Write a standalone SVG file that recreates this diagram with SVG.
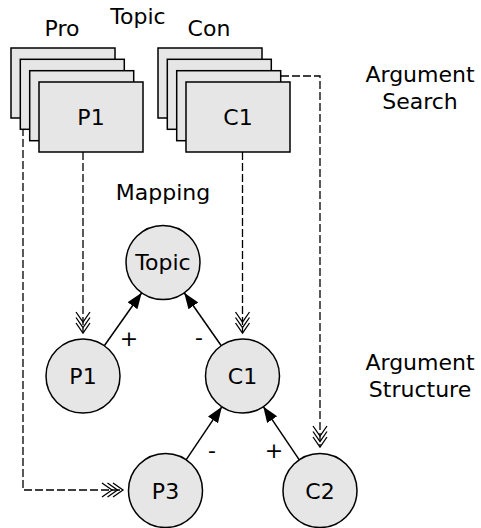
<svg xmlns="http://www.w3.org/2000/svg" width="481" height="528" viewBox="0 0 481 528">
<style>
text{font-family:"DejaVu Sans","Verdana",sans-serif;font-size:22px;fill:#000;text-anchor:middle}
.card{fill:#e6e6e6;stroke:#000;stroke-width:1.5}
.node{fill:#e6e6e6;stroke:#000;stroke-width:1.5}
.dash{fill:none;stroke:#000;stroke-width:1.3;stroke-dasharray:8,3}
.edge{fill:none;stroke:#000;stroke-width:1.5}
</style>
<defs>
<marker id="chev" markerUnits="userSpaceOnUse" markerWidth="26" markerHeight="18" viewBox="-23 -9 26 18" refX="0" refY="0" orient="auto">
<path d="M-10,-7 L0,0 L-10,7 M-15.5,-7 L-5.5,0 L-15.5,7 M-21,-7 L-11,0 L-21,7" fill="none" stroke="#000" stroke-width="1.3"/>
</marker>
<marker id="tri" markerUnits="userSpaceOnUse" markerWidth="18" markerHeight="14" viewBox="-16 -7 18 14" refX="0" refY="0" orient="auto">
<path d="M0,0 L-16,-6 L-16,6 Z" fill="#000"/>
</marker>
</defs>

<g id="labels">
<text x="62" y="36">Pro</text>
<text x="138" y="24">Topic</text>
<text x="209" y="36">Con</text>
<text x="163" y="200">Mapping</text>
<text x="420" y="82">Argument</text>
<text x="420" y="109">Search</text>
<text x="420" y="370">Argument</text>
<text x="420" y="397">Structure</text>
</g>

<g id="connectors">
<path class="dash" d="M23,128 V490 H123" marker-end="url(#chev)"/>
<path class="dash" d="M83,152 V333" marker-end="url(#chev)"/>
<path class="dash" d="M242.5,152 V333" marker-end="url(#chev)"/>
<path class="dash" d="M281,76 H320 V447" marker-end="url(#chev)"/>
<path class="edge" d="M104.3,345.8 L141.7,292.7" marker-end="url(#tri)"/>
<path class="edge" d="M221.3,345.7 L184.2,292.8" marker-end="url(#tri)"/>
<path class="edge" d="M186.1,459.8 L221.9,406.7" marker-end="url(#tri)"/>
<path class="edge" d="M299.3,459.9 L263.2,406.4" marker-end="url(#tri)"/>
<text x="129" y="346">+</text>
<text x="199" y="345">-</text>
<text x="212" y="458">-</text>
<text x="274" y="458">+</text>
</g>

<g id="pro-stack">
<rect class="card" x="11" y="48" width="104" height="70"/>
<rect class="card" x="20.3" y="59.3" width="104" height="70"/>
<rect class="card" x="29.7" y="70.7" width="104" height="70"/>
<rect class="card" x="39" y="82" width="104" height="70"/>
<text x="91" y="125">P1</text>
</g>

<g id="con-stack">
<rect class="card" x="158" y="48" width="104" height="70"/>
<rect class="card" x="167.3" y="59.3" width="104" height="70"/>
<rect class="card" x="176.7" y="70.7" width="104" height="70"/>
<rect class="card" x="186" y="82" width="104" height="70"/>
<text x="238" y="125">C1</text>
</g>

<g id="node-topic">
<circle class="node" cx="163" cy="262.5" r="37"/>
<text x="163" y="270">Topic</text>
</g>
<g id="node-p1">
<circle class="node" cx="83" cy="376" r="37"/>
<text x="83" y="384">P1</text>
</g>
<g id="node-c1">
<circle class="node" cx="242.5" cy="376" r="37"/>
<text x="242.5" y="384">C1</text>
</g>
<g id="node-p3">
<circle class="node" cx="165.5" cy="490.5" r="37"/>
<text x="165.5" y="498.5">P3</text>
</g>
<g id="node-c2">
<circle class="node" cx="320" cy="490.5" r="37"/>
<text x="320" y="498.5">C2</text>
</g>
</svg>
